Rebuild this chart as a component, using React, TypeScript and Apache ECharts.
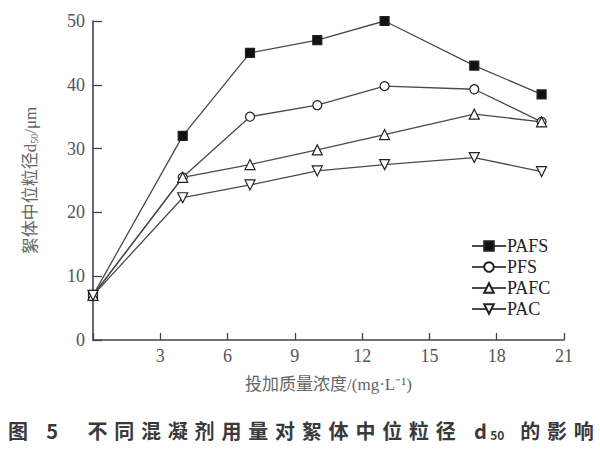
import React, { useEffect, useRef } from "react";
import * as echarts from "echarts";

const doses = [0, 4, 7, 10, 13, 17, 20];
const pafs = [7, 32, 45, 47, 50, 43, 38.5];
const pfs = [7, 25.5, 35, 36.8, 39.8, 39.3, 34.2];
const pafc = [7, 25.5, 27.5, 29.8, 32.2, 35.4, 34.2];
const pac = [7, 22.3, 24.3, 26.5, 27.5, 28.6, 26.4];
const seriesNames = ["PAFS", "PFS", "PAFC", "PAC"];
const xTicks = [3, 6, 9, 12, 15, 18, 21];
const yTicks = [0, 10, 20, 30, 40, 50];

const captionPre = "图 5  不同混凝剂用量对絮体中位粒径 d";
const captionSub = "50";
const captionPost = " 的影响";

const SERIF = "'Liberation Serif', 'Times New Roman', 'Noto Sans CJK SC', serif";
const CJK = "'Noto Sans CJK SC', sans-serif";

function pairs(ys: number[]) {
  return doses.map((x, i) => [x, ys[i]]);
}

export default function App() {
  const ref = useRef<HTMLDivElement>(null);
  useEffect(() => {
    if (!ref.current) return;
    const chart = echarts.init(ref.current, null, { renderer: "svg" });
    const lineColor = "#4a4a4a";
    const mk = (name: string, ys: number[], symbol: string, size: number, filled: boolean, rotate = 0) => ({
      name,
      type: "line",
      data: pairs(ys),
      symbol,
      symbolSize: size,
      symbolRotate: rotate,
      showAllSymbol: true,
      lineStyle: { color: lineColor, width: 1.3 },
      itemStyle: {
        color: filled ? "#111" : "#fff",
        borderColor: "#222",
        borderWidth: 1.2,
      },
      emphasis: { disabled: true },
    });
    const richCaption =
      captionPre.split("").map((c) => `{c|${c}}`).join("") +
      `{s|${captionSub}}` +
      captionPost.split("").map((c) => `{c|${c}}`).join("");
    chart.setOption({
      animation: false,
      backgroundColor: "#fff",
      grid: { left: 93, right: 36, top: 21, bottom: 110 },
      xAxis: {
        type: "value",
        min: 0,
        max: 21,
        interval: 3,
        splitLine: { show: false },
        axisLine: { onZero: false, lineStyle: { color: "#444", width: 1.6 } },
        axisTick: { inside: true, length: 7, lineStyle: { color: "#444", width: 1.3 } },
        axisLabel: {
          color: "#555",
          fontFamily: SERIF,
          fontSize: 18,
          margin: 7,
          formatter: (v: number) => (xTicks.includes(v) ? String(v) : ""),
        },
        name: "投加质量浓度/(mg·L⁻¹)",
        nameLocation: "middle",
        nameGap: 36,
        nameTextStyle: { color: "#666", fontFamily: SERIF, fontSize: 17 },
      },
      yAxis: {
        type: "value",
        min: 0,
        max: 50,
        interval: 10,
        splitLine: { show: false },
        axisLine: { show: true, lineStyle: { color: "#444", width: 1.6 } },
        axisTick: { show: true, inside: true, length: 9, lineStyle: { color: "#444", width: 1.3 } },
        axisLabel: {
          color: "#555",
          fontFamily: SERIF,
          fontSize: 18,
          margin: 8,
          formatter: (v: number) => (yTicks.includes(v) ? String(v) : ""),
        },
        name: "絮体中位粒径d{s|50}/μm",
        nameLocation: "middle",
        nameGap: 54,
        nameTextStyle: {
          color: "#666",
          fontFamily: SERIF,
          fontSize: 17,
          rich: { s: { fontSize: 10, fontFamily: SERIF, color: "#666", verticalAlign: "bottom", padding: [8, 0, 0, 0] } },
        },
      },
      legend: {
        data: seriesNames,
        orient: "vertical",
        left: 466,
        top: 232,
        itemWidth: 34,
        itemHeight: 12,
        itemGap: 3,
        textStyle: { color: "#222", fontFamily: SERIF, fontSize: 18, padding: [0, 0, 0, -4] },
        selectedMode: false,
      },
      series: [
        mk(seriesNames[0], pafs, "rect", 9, true),
        mk(seriesNames[1], pfs, "circle", 9, false),
        mk(seriesNames[2], pafc, "triangle", 10, false),
        mk(seriesNames[3], pac, "triangle", 10, false, 180),
      ],
      graphic: [
        {
          type: "text",
          left: 8,
          top: 420,
          style: {
            text: richCaption,
            fill: "#3a3a3a",
            font: `bold 20px ${CJK}`,
            rich: {
              c: { fontSize: 20, fontWeight: "bold", fontFamily: CJK, fill: "#3a3a3a", padding: [0, 3.4, 0, 3.4] },
              s: { fontSize: 12, fontWeight: "bold", fontFamily: CJK, fill: "#3a3a3a", padding: [10, 1, 0, 0] },
            },
          },
        },
      ],
    });
    return () => chart.dispose();
  }, []);
  return (
    <div
      ref={ref}
      style={{ position: "fixed", left: 0, top: 0, width: 600, height: 450, background: "#fff" }}
    />
  );
}
